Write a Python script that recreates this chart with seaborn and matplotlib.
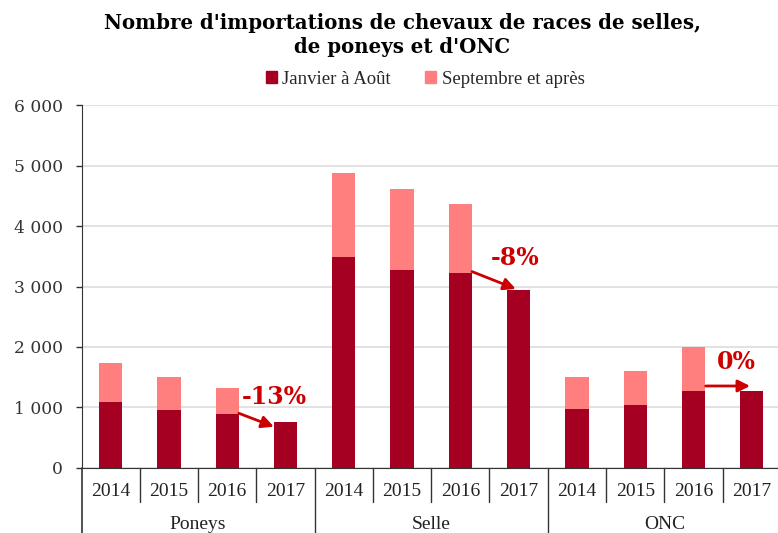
import pandas as pd
import matplotlib.pyplot as plt
import seaborn as sns
from matplotlib.patches import Patch
from matplotlib.lines import Line2D
import matplotlib.transforms as mtransforms

sns.set_style('white')
plt.rcParams['font.family'] = ['Liberation Serif', 'DejaVu Serif']

# données
groupes = ['Poneys', 'Selle', 'ONC']
annees = ['2014', '2015', '2016', '2017']
janv_aout = [1095, 955, 884, 762,
             3495, 3270, 3225, 2949,
             977, 1033, 1270, 1270]
sept_apres = [645, 552, 441, 0,
              1391, 1341, 1138, 0,
              530, 574, 724, 0]
evolutions = ['-13%', '-8%', '0%']

rows = []
for i, g in enumerate(groupes):
    for j, a in enumerate(annees):
        k = i * 4 + j
        rows.append({'barre': g + ' ' + a, 'groupe': g, 'annee': a,
                     'janv': janv_aout[k], 'total': janv_aout[k] + sept_apres[k]})
df = pd.DataFrame(rows)

fonce = '#A50021'
clair = '#FF7F7F'
rouge = '#CC0000'

fig = plt.figure(figsize=(7.78, 5.33), dpi=100)
ax = fig.add_axes([81.5 / 778, 65.3 / 533, (778 - 81.5) / 778, 362.4 / 533])

sns.barplot(data=df, x='barre', y='total', color=clair, width=0.4,
            saturation=1, linewidth=0, ax=ax)
sns.barplot(data=df, x='barre', y='janv', color=fonce, width=0.4,
            saturation=1, linewidth=0, ax=ax)

ax.set_xlim(-0.5, 11.45)
ax.set_ylim(0, 6000)
ax.set_yticks(range(0, 6001, 1000))
ax.set_yticklabels(['0', '1 000', '2 000', '3 000', '4 000', '5 000', '6 000'],
                   fontsize=12.3, family=['DejaVu Serif'], color='#333333')
ax.yaxis.grid(True, color='#DDDDDD', linewidth=1.2)
ax.set_axisbelow(True)
ax.tick_params(axis='y', length=4.5, width=1, color='#333333', left=True, pad=9)
ax.tick_params(axis='x', bottom=False, labelbottom=False)
ax.set_xlabel('')
ax.set_ylabel('')
for s in ['top', 'right']:
    ax.spines[s].set_visible(False)
ax.spines['left'].set_color('#333333')
ax.spines['bottom'].set_color('#333333')
ax.spines['left'].set_bounds(0, 6000)

# axe des catégories à deux niveaux
trans = mtransforms.blended_transform_factory(ax.transData, ax.transAxes)
bas_annee = -34 / 362.4
bas_fig = -66 / 362.4
for k in range(12):
    ax.text(k, -24 / 362.4, df['annee'][k], transform=trans, ha='center',
            va='center', fontsize=14, color='#222222')
for k in range(1, 12):
    y1 = bas_fig if k % 4 == 0 else bas_annee
    ax.add_line(Line2D([k - 0.5, k - 0.5], [0, y1], transform=trans,
                       color='#333333', lw=1, clip_on=False))
ax.add_line(Line2D([-0.5, -0.5], [0, bas_fig], transform=trans,
                   color='#333333', lw=1.2, clip_on=False))
for i, g in enumerate(groupes):
    ax.text(i * 4 + 1.5, -57 / 362.4, g, transform=trans, ha='center',
            va='center', fontsize=14, color='#222222')

# flèches d'évolution 2016 -> 2017
fleches = [((2.20, 901), (2.80, 679), (2.80, 1176)),
           ((6.20, 3247), (6.95, 2960), (6.94, 3474)),
           ((10.21, 1353), (10.97, 1353), (10.74, 1756))]
for (debut, fin, pos), txt in zip(fleches, evolutions):
    ax.annotate('', xy=fin, xytext=debut,
                arrowprops=dict(arrowstyle='-|>', color=rouge, lw=2,
                                mutation_scale=18, shrinkA=0, shrinkB=0))
    ax.text(pos[0], pos[1], txt, ha='center', va='center', fontsize=17,
            fontweight='bold', color=rouge, family=['DejaVu Serif'])

fig.text(0.517, 1 - 35 / 533,
         "Nombre d'importations de chevaux de races de selles,\nde poneys et d'ONC",
         ha='center', va='center', fontsize=14.2, fontweight='bold',
         family=['DejaVu Serif'], linespacing=1.25, color='black')

handles = [Patch(color=fonce, label='Janvier à Août'),
           Patch(color=clair, label='Septembre et après')]
fig.legend(handles=handles, loc='center', bbox_to_anchor=(425 / 778, 1 - 79 / 533),
           ncol=2, frameon=False, fontsize=13.5, handlelength=0.6, handleheight=0.6,
           handletextpad=0.3, columnspacing=1.8)

fig.savefig('out.png', dpi=100)
